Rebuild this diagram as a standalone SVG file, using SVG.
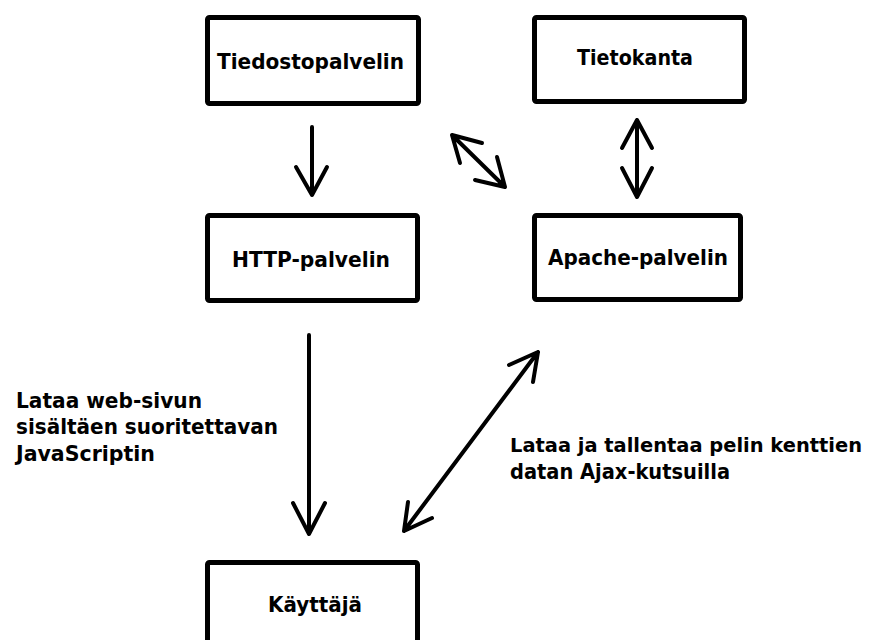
<svg xmlns="http://www.w3.org/2000/svg" width="872" height="640" viewBox="0 0 872 640">
<style>
.box{fill:#fff;stroke:#000;stroke-width:5;}
.t{font-family:"DejaVu Sans","Liberation Sans",sans-serif;font-weight:bold;font-size:21px;fill:#000;}
.s{font-size:19.5px;}
.a{fill:none;stroke:#000;stroke-width:4;stroke-linecap:round;stroke-linejoin:round;}
</style>
<rect width="872" height="640" fill="#fff"/>
<g id="tiedostopalvelin">
<rect class="box" x="207.5" y="17.5" width="211" height="86" rx="2"/>
<text class="t" x="217" y="69" textLength="187" lengthAdjust="spacingAndGlyphs">Tiedostopalvelin</text>
</g>
<g id="tietokanta">
<rect class="box" x="534.5" y="17.5" width="210" height="84" rx="2"/>
<text class="t" x="577" y="65" textLength="116" lengthAdjust="spacingAndGlyphs">Tietokanta</text>
</g>
<g id="http-palvelin">
<rect class="box" x="207.5" y="215.5" width="210" height="85" rx="2"/>
<text class="t" x="232" y="267" textLength="158" lengthAdjust="spacingAndGlyphs">HTTP-palvelin</text>
</g>
<g id="apache-palvelin">
<rect class="box" x="534.5" y="215.5" width="206" height="84" rx="2"/>
<text class="t" x="548" y="265" textLength="180" lengthAdjust="spacingAndGlyphs">Apache-palvelin</text>
</g>
<g id="kayttaja">
<rect class="box" x="207.5" y="562.5" width="210" height="100" rx="2"/>
<text class="t" x="268" y="612" textLength="94" lengthAdjust="spacingAndGlyphs">Käyttäjä</text>
</g>
<g id="connectors">
<path class="a" d="M312 127 V195 M296 167 L312 195 L327 167"/>
<path class="a" d="M309 335 V534 M293 503 L309 534 L325 503"/>
<path class="a" d="M452 135 L505 187 M482 143 L452 135 L460 163 M497 157 L505 187 L475 180"/>
<path class="a" d="M637 120 V197 M622 148 L637 120 L652 148 M622 168 L637 197 L652 168"/>
<path class="a" d="M538 352 L404 531 M509 365 L538 352 L533 382 M408 502 L404 531 L432 518"/>
<text class="t" x="16" y="408" textLength="186" lengthAdjust="spacingAndGlyphs">Lataa web-sivun</text>
<text class="t" x="16" y="434" textLength="262" lengthAdjust="spacingAndGlyphs">sisältäen suoritettavan</text>
<text class="t" x="16" y="461" textLength="139" lengthAdjust="spacingAndGlyphs">JavaScriptin</text>
<text class="t s" x="510" y="452" textLength="352" lengthAdjust="spacingAndGlyphs">Lataa ja tallentaa pelin kenttien</text>
<text class="t" x="510" y="479" textLength="220" lengthAdjust="spacingAndGlyphs">datan Ajax-kutsuilla</text>
</g>
</svg>
